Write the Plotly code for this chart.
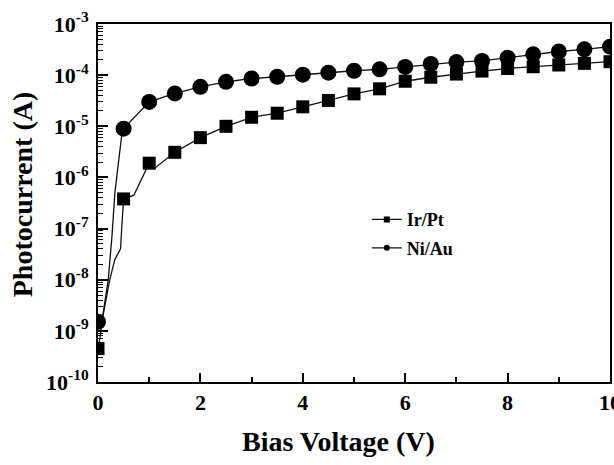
import plotly.graph_objects as go

# ---- data ----
bias_v = [0, 0.5, 1.0, 1.5, 2.0, 2.5, 3.0, 3.5, 4.0, 4.5, 5.0,
          5.5, 6.0, 6.5, 7.0, 7.5, 8.0, 8.5, 9.0, 9.5, 10.0]
ni_au = [1.5e-9, 9e-6, 3e-5, 4.4e-5, 5.9e-5, 7.4e-5, 8.6e-5, 9.3e-5, 1.02e-4, 1.12e-4, 1.22e-4,
         1.3e-4, 1.45e-4, 1.65e-4, 1.8e-4, 1.9e-4, 2.2e-4, 2.55e-4, 2.9e-4, 3.2e-4, 3.6e-4]
ir_pt = [4.5e-10, 3.8e-7, 1.9e-6, 3.1e-6, 6e-6, 1.0e-5, 1.5e-5, 1.8e-5, 2.4e-5, 3.2e-5, 4.3e-5,
         5.4e-5, 7.6e-5, 9.1e-5, 1.05e-4, 1.2e-4, 1.35e-4, 1.46e-4, 1.58e-4, 1.7e-4, 1.83e-4]

# extra line-only points (curve detail between markers)
ni_extra_v = [0.05, 0.1, 0.2, 0.27, 0.3, 0.33, 0.37, 0.42, 0.46]
ni_extra_i = [1.4e-9, 2.2e-9, 1e-8, 6.5e-8, 2.5e-7, 5e-7, 1.1e-6, 3e-6, 6.3e-6]
ir_extra_v = [0.04, 0.07, 0.14, 0.23, 0.33, 0.44, 0.47, 0.7, 0.85, 1.1]
ir_extra_i = [7.5e-10, 1.4e-9, 3.5e-9, 1e-8, 2.5e-8, 4e-8, 1.3e-7, 4.5e-7, 9e-7, 1.5e-6]

y_tick_exp = [-10, -9, -8, -7, -6, -5, -4, -3]
x_tick_vals = [0, 2, 4, 6, 8, 10]
x_title = "Bias Voltage (V)"
y_title = "Photocurrent (A)"


def merged(v1, i1, v2, i2):
    pts = sorted(zip(v1 + v2, i1 + i2))
    return [p[0] for p in pts], [p[1] for p in pts]


ni_line_v, ni_line_i = merged(bias_v, ni_au, ni_extra_v, ni_extra_i)
ir_line_v, ir_line_i = merged(bias_v, ir_pt, ir_extra_v, ir_extra_i)

FONT = "Liberation Serif"
fig = go.Figure()

line_style = dict(color="#111111", width=1.3)

fig.add_trace(go.Scatter(x=ir_line_v, y=ir_line_i, mode="lines", line=line_style,
                         showlegend=False, hoverinfo="skip"))
fig.add_trace(go.Scatter(x=ni_line_v, y=ni_line_i, mode="lines", line=line_style,
                         showlegend=False, hoverinfo="skip"))
fig.add_trace(go.Scatter(x=bias_v, y=ir_pt, mode="markers",
                         marker=dict(symbol="square", size=13, color="black"),
                         showlegend=False, name="Ir/Pt"))
fig.add_trace(go.Scatter(x=bias_v, y=ni_au, mode="markers",
                         marker=dict(symbol="circle", size=16, color="black"),
                         showlegend=False, name="Ni/Au"))
# legend entries
fig.add_trace(go.Scatter(x=[None], y=[None], mode="lines+markers", name="<b>Ir/Pt</b>",
                         legendgroup="a",
                         line=line_style, marker=dict(symbol="square", size=6, color="black")))
fig.add_trace(go.Scatter(x=[None], y=[None], mode="lines+markers", name="<b>Ni/Au</b>",
                         legendgroup="b",
                         line=line_style, marker=dict(symbol="circle", size=6, color="black")))

minor_vals = [m * 10 ** e for e in y_tick_exp[:-1] for m in range(2, 10)]

fig.update_layout(
    width=614, height=465,
    margin=dict(l=98, r=4, t=24, b=83, autoexpand=False),
    paper_bgcolor="white", plot_bgcolor="white",
    font=dict(family=FONT, color="black"),
    legend=dict(x=0.525, y=0.505, xanchor="left", yanchor="top",
                bgcolor="rgba(0,0,0,0)", font=dict(family=FONT, size=18, color="black"),
                traceorder="grouped", tracegroupgap=2),
    xaxis=dict(
        range=[0, 10], showgrid=False, zeroline=False, automargin=False,
        showline=True, linecolor="black", linewidth=2, mirror=True,
        ticks="inside", ticklen=9, tickwidth=1.5, tickcolor="black",
        tickvals=x_tick_vals, ticktext=[f"<b>{v}</b>" for v in x_tick_vals],
        tickfont=dict(family=FONT, size=22), ticklabeloverflow="allow",
        minor=dict(ticks="inside", ticklen=5, tickwidth=1.5, tickcolor="black", dtick=1, showgrid=False),
    ),
    yaxis=dict(
        type="log", range=[-10, -3], showgrid=False, zeroline=False, automargin=False,
        showline=True, linecolor="black", linewidth=2, mirror=True,
        ticks="inside", ticklen=10, tickwidth=1.5, tickcolor="black",
        tickvals=[10 ** e for e in y_tick_exp],
        ticktext=[f"<b>10<sup>{e}</sup></b>" for e in y_tick_exp],
        tickfont=dict(family=FONT, size=22), ticklabelstandoff=3,
        minor=dict(ticks="inside", ticklen=5, tickwidth=1.2, tickcolor="black",
                   tickvals=minor_vals, showgrid=False),
    ),
    annotations=[
        dict(text=f"<b>{x_title}</b>", xref="paper", yref="paper", x=0.469, y=-0.165,
             xanchor="center", yanchor="middle", showarrow=False,
             font=dict(family=FONT, size=28, color="black")),
        dict(text=f"<b>{y_title}</b>", xref="paper", yref="paper", x=-0.148, y=0.525,
             xanchor="center", yanchor="middle", showarrow=False, textangle=-90,
             font=dict(family=FONT, size=28, color="black")),
    ],
)

fig.write_html("out.html")
